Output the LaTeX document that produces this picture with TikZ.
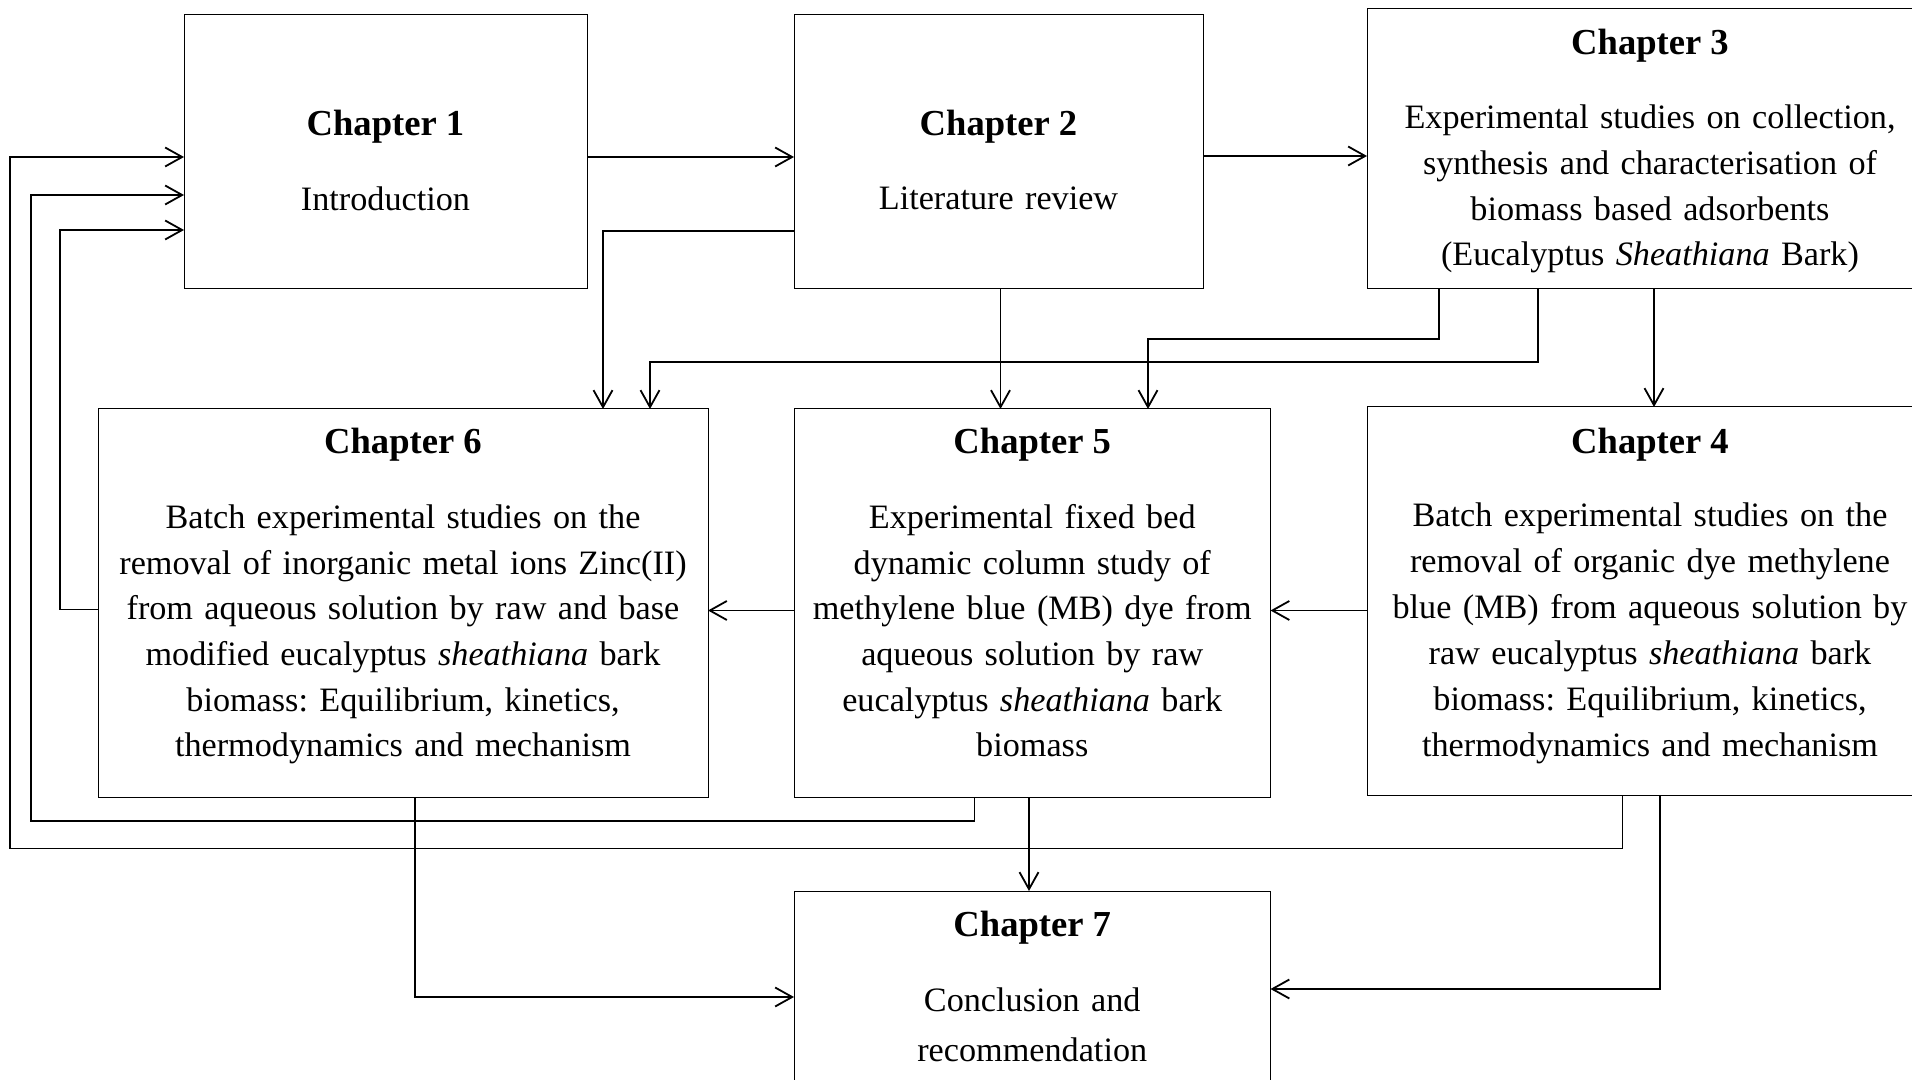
\documentclass[tikz,border=0pt]{standalone}
\usepackage{fontspec}
\setmainfont{Liberation Serif}
\usetikzlibrary{arrows.meta}
\frenchspacing
\begin{document}
\begin{tikzpicture}[x=0.5pt,y=-0.5pt,
  box/.style={draw, line width=0.5pt, inner sep=0pt, outer sep=0pt},
  hdr/.style={anchor=base, inner sep=0pt, font=\fontsize{18.3pt}{22pt}\selectfont\bfseries},
  bodytxt/.style={anchor=base, align=center, text width=300pt, inner sep=0pt, font=\fontsize{17.1pt}{#1}\selectfont\frenchspacing},
  arr/.style={line width=0.9pt, -{Straight Barb[length=8.5pt,width=9.5pt]}}]
\useasboundingbox (0,0) rectangle (1912,1080);
\fill[white] (0,0) rectangle (1912,1080);
% boxes
\node[box, minimum width=201.5pt, minimum height=137pt] (c1) at (385.5,152) {};
\node[box, minimum width=204.5pt, minimum height=137pt] (c2) at (998.5,152) {};
\node[box, minimum width=283pt, minimum height=140pt] (c3) at (1650,149) {};
\node[box, minimum width=283pt, minimum height=194pt] (c4) at (1650,601) {};
\node[box, minimum width=238.25pt, minimum height=194pt] (c5) at (1032.25,603) {};
\node[box, minimum width=305pt, minimum height=194pt] (c6) at (403,603) {};
\node[box, minimum width=238.25pt, minimum height=99.5pt] (c7) at (1032.25,990.5) {};
% texts
\node[hdr] (c1h) at (385.5,136) {Chapter 1};
\node[bodytxt=22pt] (c1b) at (385.5,210.7) {Introduction};
\node[hdr] (c2h) at (998.5,136) {Chapter 2};
\node[bodytxt=22pt] (c2b) at (998.5,209.5) {Literature review};
\node[hdr] (c3h) at (1650,54.3) {Chapter 3};
\node[bodytxt=22.9pt] (c3b) at (1650,128.5) {Experimental studies on collection,\\ synthesis and characterisation of\\ biomass based adsorbents\\ (Eucalyptus \textit{Sheathiana} Bark)};
\node[hdr] (c4h) at (1650,453.3) {Chapter 4};
\node[bodytxt=22.95pt] (c4b) at (1650,526.7) {Batch experimental studies on the\\ removal of organic dye methylene\\ blue (MB) from aqueous solution by\\ raw eucalyptus \textit{sheathiana} bark\\ biomass: Equilibrium, kinetics,\\ thermodynamics and mechanism};
\node[hdr] (c5h) at (1032.25,454) {Chapter 5};
\node[bodytxt=22.85pt] (c5b) at (1032.25,528.3) {Experimental fixed bed\\ dynamic column study of\\ methylene blue (MB) dye from\\ aqueous solution by raw\\ eucalyptus \textit{sheathiana} bark\\ biomass};
\node[hdr] (c6h) at (403,454) {Chapter 6};
\node[bodytxt=22.85pt] (c6b) at (403,528.3) {Batch experimental studies on the\\ removal of inorganic metal ions Zinc(II)\\ from aqueous solution by raw and base\\ modified eucalyptus \textit{sheathiana} bark\\ biomass: Equilibrium, kinetics,\\ thermodynamics and mechanism};
\node[hdr] (c7h) at (1032.25,936) {Chapter 7};
\node[bodytxt=24.9pt] (c7b) at (1032.25,1011.5) {Conclusion and\\ recommendation};
% connectors
\draw[arr] (c1.east |- 0,157) -- (c2.west |- 0,157);
\draw[arr] (c2.east |- 0,156) -- (c3.west |- 0,156);
\draw[arr] (c2.west |- 0,231) -- (603,231) -- (603,0 |- c6.north);
\draw[arr] (1538,0 |- c3.south) -- (1538,362) -- (650,362) -- (650,0 |- c6.north);
\draw[arr] (1439,0 |- c3.south) -- (1439,339) -- (1148,339) -- (1148,0 |- c5.north);
\draw[arr] (1000.5,0 |- c2.south) -- (1000.5,0 |- c5.north);
\draw[arr] (1654,0 |- c3.south) -- (1654,0 |- c4.north);
\draw[arr] (c4.west |- 0,610.5) -- (c5.east |- 0,610.5);
\draw[arr] (c5.west |- 0,610.5) -- (c6.east |- 0,610.5);
\draw[arr] (c6.west |- 0,609.5) -- (60,609.5) -- (60,230) -- (c1.west |- 0,230);
\draw[arr] (974.5,0 |- c5.south) -- (974.5,821) -- (31,821) -- (31,195) -- (c1.west |- 0,195);
\draw[arr] (1622.5,0 |- c4.south) -- (1622.5,848.5) -- (10,848.5) -- (10,157) -- (c1.west |- 0,157);
\draw[arr] (415,0 |- c6.south) -- (415,997) -- (c7.west |- 0,997);
\draw[arr] (1029,0 |- c5.south) -- (1029,0 |- c7.north);
\draw[arr] (1660,0 |- c4.south) -- (1660,989) -- (c7.east |- 0,989);
\end{tikzpicture}
\end{document}
